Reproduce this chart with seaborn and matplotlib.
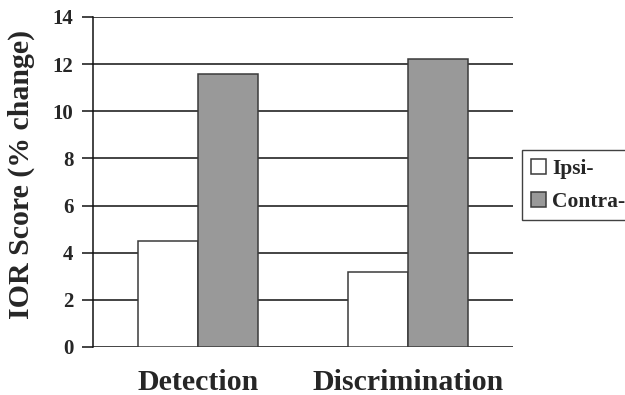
import matplotlib.patches as mpatches
import matplotlib.pyplot as plt
import pandas as pd
import seaborn as sns

# values
TASKS = ["Detection", "Discrimination"]
SIDES = ["Ipsi-", "Contra-"]
IPSI = [4.5, 3.2]
CONTRA = [11.6, 12.2]
Y_TICKS = [0, 2, 4, 6, 8, 10, 12, 14]

COLORS = {"Ipsi-": "#FFFFFF", "Contra-": "#999999"}
EDGE = "#3A3A3A"


def main() -> None:
    sns.set_theme(style="white")
    plt.rcParams["font.family"] = ["Liberation Serif", "DejaVu Serif"]
    plt.rcParams["font.weight"] = "bold"

    df = pd.DataFrame(
        {
            "task": TASKS * 2,
            "side": [SIDES[0]] * len(TASKS) + [SIDES[1]] * len(TASKS),
            "score": IPSI + CONTRA,
        }
    )

    fig = plt.figure(figsize=(6.25, 3.95), dpi=100)
    ax = fig.add_axes((93 / 625, 1 - 347 / 395, 420 / 625, 330 / 395))

    ax.set_axisbelow(True)
    ax.yaxis.grid(True, color="#111111", linewidth=1.1)

    sns.barplot(
        data=df, x="task", y="score", hue="side",
        order=TASKS, hue_order=SIDES, palette=COLORS,
        width=0.571, edgecolor=EDGE, linewidth=1.1,
        legend=False, ax=ax,
    )

    ax.set_ylim(0, 14)
    ax.set_xlim(-0.5, 1.5)
    ax.set_yticks(Y_TICKS)
    ax.set_yticklabels([str(t) for t in Y_TICKS], fontsize=15, fontweight="bold")
    ax.set_xticks(range(len(TASKS)))
    ax.set_xticklabels(TASKS, fontsize=21.5, fontweight="bold")
    ax.tick_params(axis="y", direction="out", length=8, width=1.1,
                   color="#111111", pad=6, left=True)
    ax.tick_params(axis="x", length=0, pad=16)

    for side in ("top", "right", "bottom"):
        ax.spines[side].set_visible(False)
    ax.spines["left"].set_color("#111111")
    ax.spines["left"].set_linewidth(1.1)

    ax.set_xlabel("")
    ax.set_ylabel("IOR Score (% change)", fontsize=21.5, fontweight="bold")
    # centre the label a bit above the axes middle, as in the original
    ax.yaxis.set_label_coords(-0.138, 0.524)

    handles = [
        mpatches.Patch(facecolor=COLORS[s], edgecolor=EDGE, linewidth=1.1, label=s)
        for s in SIDES
    ]
    leg = fig.legend(
        handles=handles, loc="upper left",
        bbox_to_anchor=(522 / 625, 1 - 150 / 395),
        frameon=True, fancybox=False, shadow=False,
        prop={"size": 15.5, "weight": "bold"},
        handlelength=0.7, handleheight=0.7, handletextpad=0.3,
        borderpad=0.4, labelspacing=0.6, borderaxespad=0,
    )
    leg.get_frame().set_edgecolor("#111111")
    leg.get_frame().set_linewidth(1.0)

    fig.savefig("out.png", dpi=100)
    plt.close(fig)


if __name__ == "__main__":
    main()
